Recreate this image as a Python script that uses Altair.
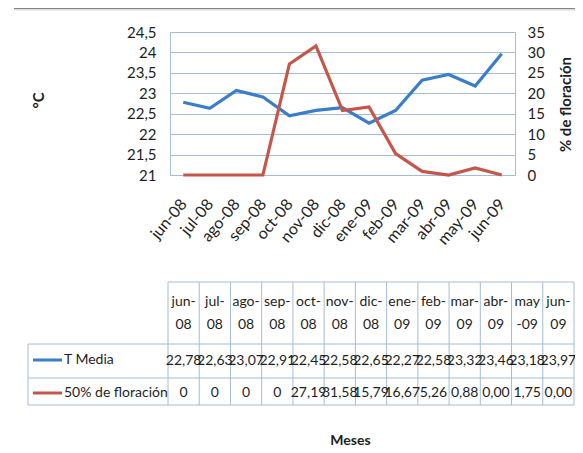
import altair as alt
import pandas as pd

# ---------------- data ----------------
months = ["jun-08", "jul-08", "ago-08", "sep-08", "oct-08", "nov-08", "dic-08",
          "ene-09", "feb-09", "mar-09", "abr-09", "may-09", "jun-09"]
t_media = [22.78, 22.63, 23.07, 22.91, 22.45, 22.58, 22.65, 22.27, 22.58,
           23.32, 23.46, 23.18, 23.97]
floracion = [0, 0, 0, 0, 27.19, 31.58, 15.79, 16.67, 5.26, 0.88, 0.00, 1.75, 0.00]
flor_text = ["0", "0", "0", "0", "27,19", "31,58", "15,79", "16,67", "5,26",
             "0,88", "0,00", "1,75", "0,00"]
header_top = ["jun-", "jul-", "ago-", "sep-", "oct-", "nov-", "dic-", "ene-",
              "feb-", "mar-", "abr-", "may", "jun-"]
header_bot = ["08", "08", "08", "08", "08", "08", "08", "09", "09", "09", "09",
              "-09", "09"]
temp_ticks = [21, 21.5, 22, 22.5, 23, 23.5, 24, 24.5]
flor_ticks = [0, 5, 10, 15, 20, 25, 30, 35]
series_names = ["T Media", "50% de floración"]

df = pd.DataFrame({
    "month": months,
    "t": t_media,
    "f": floracion,
    "t_lab": [f"{v:.2f}".replace(".", ",") for v in t_media],
    "f_lab": flor_text,
    "h1": header_top,
    "h2": header_bot,
})

# ---------------- style ----------------
W, H = 345, 143
FONT = "Lato"
BLUE = "#3a7dc9"
RED = "#c4574a"
GRID = "#a3bdd6"
TXT = "#1e1e1e"

base = alt.Chart(df)
xline = alt.Scale(type="point", domain=months, padding=0.5)
tscale = alt.Scale(type="band", domain=months, range=[-2, 404],
                   paddingInner=0, paddingOuter=0)
comma = "replace(toString(datum.value), '.', ',')"

temp = base.mark_line(color=BLUE, strokeWidth=3.2).encode(
    x=alt.X("month:N", scale=xline, sort=months,
            axis=alt.Axis(title="Meses", labelAngle=-50, labelAlign="right",
                          labelBaseline="middle", labelPadding=26,
                          labelFontSize=16, labelFont=FONT, labelColor=TXT,
                          ticks=False, domainColor=GRID, grid=False,
                          titleX=180, titleY=265, titleFont=FONT,
                          titleFontSize=14, titleFontWeight="bold",
                          titleColor=TXT, titleAlign="center",
                          titleBaseline="middle")),
    y=alt.Y("t:Q", scale=alt.Scale(domain=[21, 24.5], nice=False, zero=False),
            axis=alt.Axis(values=temp_ticks, labelExpr=comma, title="°C",
                          titleX=-132, titleY=68, titleAngle=270,
                          titleAlign="center", titleBaseline="middle",
                          titleFont=FONT, titleFontSize=15,
                          titleFontWeight="bold", titleColor=TXT,
                          grid=True, gridColor=GRID, domainColor=GRID,
                          ticks=False, labelPadding=14, labelFont=FONT,
                          labelFontSize=15, labelColor=TXT)),
)

flor = base.mark_line(color=RED, strokeWidth=3.2).encode(
    x=alt.X("month:N", scale=xline, sort=months, axis=None),
    y=alt.Y("f:Q", scale=alt.Scale(domain=[0, 35], nice=False),
            axis=alt.Axis(orient="right", values=flor_ticks,
                          title="% de floración", titleX=50, titleY=72,
                          titleAngle=270, titleAlign="center",
                          titleBaseline="middle", titleFont=FONT,
                          titleFontSize=15, titleFontWeight="bold",
                          titleColor=TXT, grid=False, domainColor=GRID,
                          ticks=False, labelPadding=12, labelFont=FONT,
                          labelFontSize=15, labelColor=TXT)),
)

# ---------------- table ----------------
def tx(field, ypix):
    return base.mark_text(font=FONT, fontSize=14, color=TXT, baseline="middle").encode(
        x=alt.X("month:N", scale=tscale, axis=None),
        y=alt.value(ypix),
        text=f"{field}:N",
    )

vlines = base.mark_rule(color=GRID, strokeWidth=1).encode(
    x=alt.X("month:N", scale=tscale, axis=None, bandPosition=0),
    y=alt.value(250), y2=alt.value(373),
)
vlast = alt.Chart(df.iloc[-1:]).mark_rule(color=GRID, strokeWidth=1).encode(
    x=alt.X("month:N", scale=tscale, axis=None, bandPosition=1),
    y=alt.value(250), y2=alt.value(373),
)

def hrule(y, x1=-142, x2=404, color=GRID, sw=1):
    return alt.Chart(df.iloc[:1]).mark_rule(color=color, strokeWidth=sw).encode(
        x=alt.value(x1), x2=alt.value(x2), y=alt.value(y))

def vrule(x, y1, y2):
    return alt.Chart(df.iloc[:1]).mark_rule(color=GRID, strokeWidth=1).encode(
        x=alt.value(x), y=alt.value(y1), y2=alt.value(y2))

legend_df = pd.DataFrame({"name": series_names})
leg_text1 = alt.Chart(legend_df.iloc[:1]).mark_text(
    font=FONT, fontSize=14, color=TXT, align="left", baseline="middle").encode(
    x=alt.value(-106), y=alt.value(328), text="name:N")
leg_text2 = alt.Chart(legend_df.iloc[1:]).mark_text(
    font=FONT, fontSize=14, color=TXT, align="left", baseline="middle").encode(
    x=alt.value(-106), y=alt.value(361), text="name:N")
sw1 = hrule(328, -137, -108, BLUE, 3)
sw2 = hrule(361, -137, -108, RED, 3)

top_line = hrule(-24, -156, 420, "#7d878c", 2.5)
top_line2 = hrule(-22, -156, 420, "#ecd3cc", 1)

chart = alt.layer(
    top_line, top_line2,
    temp, flor,
    vlines, vlast,
    hrule(250, -2, 404), hrule(312), hrule(346), hrule(373),
    vrule(-142, 312, 373),
    tx("h1", 270), tx("h2", 293), tx("t_lab", 329), tx("f_lab", 361),
    sw1, sw2, leg_text1, leg_text2,
).resolve_scale(
    x="independent", y="independent"
).properties(
    width=W, height=H,
    autosize=alt.AutoSizeParams(type="none"),
    padding={"left": 162, "top": 24, "right": 60, "bottom": 278},
).configure_view(stroke=None).configure(background="white")

chart.save("out.html", embed_options={"renderer": "svg", "actions": False})
